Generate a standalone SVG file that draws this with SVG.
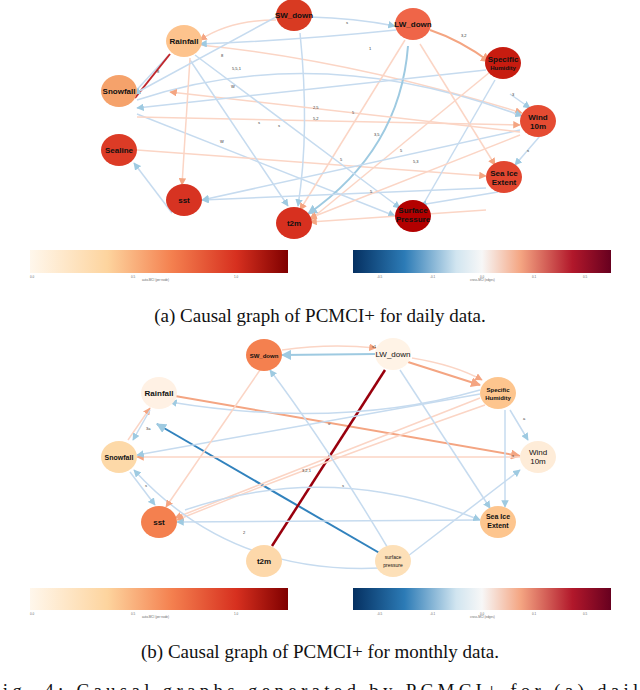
<svg xmlns="http://www.w3.org/2000/svg" width="640" height="690" viewBox="0 0 640 690">
<defs>
<linearGradient id="seq" x1="0" x2="1"><stop offset="0" stop-color="#fff7ec"/><stop offset="0.3" stop-color="#fdd49e"/><stop offset="0.55" stop-color="#f4804f"/><stop offset="0.8" stop-color="#d7301f"/><stop offset="1" stop-color="#7f0000"/></linearGradient>
<linearGradient id="div" x1="0" x2="1"><stop offset="0" stop-color="#053061"/><stop offset="0.2" stop-color="#2c7bb6"/><stop offset="0.4" stop-color="#d1e5f0"/><stop offset="0.5" stop-color="#f7f7f7"/><stop offset="0.65" stop-color="#f4a582"/><stop offset="0.85" stop-color="#b2182b"/><stop offset="1" stop-color="#67001f"/></linearGradient>
<marker id="ab" viewBox="0 0 10 10" refX="9" refY="5" markerWidth="5" markerHeight="5" orient="auto"><path d="M0,0L10,5L0,10z" fill="#9ecae1"/></marker>
<marker id="ar" viewBox="0 0 10 10" refX="9" refY="5" markerWidth="5" markerHeight="5" orient="auto"><path d="M0,0L10,5L0,10z" fill="#f4a582"/></marker>
</defs>
<style>
.n text{font-family:"Liberation Sans",Arial,sans-serif;font-size:8px;font-weight:bold;text-anchor:middle;fill:#111}
.b{fill:none;stroke:#c6dbef;stroke-width:1.5;marker-end:url(#ab)}
.bd{fill:none;stroke:#9ecae1;stroke-width:2;marker-end:url(#ab)}
.r{fill:none;stroke:#fbd5c5;stroke-width:1.5;marker-end:url(#ar)}
.rd{fill:none;stroke:#f4a582;stroke-width:2;marker-end:url(#ar)}
.lbl{font-family:"Liberation Sans",Arial,sans-serif;font-size:4px;fill:#333}
.cap{font-family:"Liberation Serif","Times New Roman",serif;font-size:19px;fill:#111;text-anchor:middle}
.tk{font-family:"Liberation Sans",Arial,sans-serif;font-size:3px;fill:#666}
</style>
<rect width="640" height="690" fill="#fff"/>
<g id="connectors">
<path class="b" d="M310,17 Q354,18 395,26"/>
<path class="rd" d="M430,30 Q460,40 490,62"/>
<path class="r" d="M200,45 Q350,60 522,113"/>
<path class="b" d="M137,100 Q320,40 522,116"/>
<path class="b" d="M137,114 L395,216"/>
<path class="r" d="M137,117 L520,125"/>
<path class="r" d="M137,150 L486,176"/>
<path class="b" d="M172,213 L134,163"/>
<path class="b" d="M300,33 Q310,130 298,206"/>
<path class="bd" d="M408,46 Q400,150 308,214"/>
<path class="r" d="M405,40 L300,210"/>
<path class="r" d="M490,72 L310,220"/>
<path class="b" d="M495,80 L420,210"/>
<path class="b" d="M520,130 L202,200"/>
<path class="r" d="M520,132 L170,92"/>
<path class="b" d="M486,188 L202,200"/>
<path class="r" d="M486,210 L310,222"/>
<path class="b" d="M195,55 L400,208"/>
<path class="b" d="M190,60 L288,206"/>
<path class="b" d="M396,30 Q300,40 200,44"/>
<path class="b" d="M486,70 L137,108"/>
<path class="r" d="M276,20 Q230,20 200,40"/>
<path class="b" d="M168,56 L132,95"/>
<path class="r" d="M190,58 L182,185"/>
<path class="b" d="M540,136 L515,165"/>
<path class="b" d="M510,94 L530,108"/>
<path class="b" d="M498,192 L420,205"/>
<path class="r" d="M520,135 L310,218"/>
<path d="M135,98 L170,54" stroke="#c0282d" stroke-width="2" fill="none"/>
<path class="b" d="M276,17 L134,94"/>
<path class="r" d="M420,44 L495,165"/>
<text class="lbl" x="346" y="24">s</text><text class="lbl" x="461" y="37">3,2</text><text class="lbl" x="369" y="50">1</text><text class="lbl" x="221" y="57">8</text><text class="lbl" x="232" y="70">5,5,1</text><text class="lbl" x="157" y="73">8</text><text class="lbl" x="231" y="88">W</text><text class="lbl" x="313" y="109">2,5</text><text class="lbl" x="313" y="120">5,2</text><text class="lbl" x="352" y="114">5</text><text class="lbl" x="258" y="124">s</text><text class="lbl" x="278" y="127">s</text><text class="lbl" x="374" y="136">3,5</text><text class="lbl" x="220" y="143">W</text><text class="lbl" x="400" y="152">5</text><text class="lbl" x="340" y="161">5</text><text class="lbl" x="413" y="163">5,3</text><text class="lbl" x="370" y="193">5</text><text class="lbl" x="512" y="96">3</text><text class="lbl" x="527" y="152">s</text>
<path class="r" d="M282,350 Q330,343 376,348"/>
<path class="bd" d="M376,354 L282,355"/>
<path class="rd" d="M408,362 L480,385"/>
<path class="r" d="M412,358 Q455,365 482,380"/>
<path class="rd" d="M175,396 L520,456"/>
<path d="M395,562 L157,424" stroke="#3182bd" stroke-width="2" fill="none" marker-end="url(#ab)"/>
<path d="M272,546 L385,370" stroke="#99000d" stroke-width="2.5" fill="none"/>
<path class="r" d="M520,457 L137,457"/>
<path class="r" d="M128,440 L150,408"/>
<path class="b" d="M150,410 L133,440"/>
<path class="b" d="M480,394 L137,455"/>
<path class="b" d="M480,390 Q340,430 170,402"/>
<path class="r" d="M480,398 L175,518"/>
<path class="r" d="M485,405 Q300,470 177,520"/>
<path class="b" d="M480,520 L177,522"/>
<path class="b" d="M185,510 Q330,460 480,520"/>
<path class="b" d="M380,568 Q230,575 134,470"/>
<path class="b" d="M130,472 L155,505"/>
<path class="r" d="M260,370 L166,507"/>
<path class="b" d="M395,560 Q330,450 270,370"/>
<path class="b" d="M400,370 L490,508"/>
<path class="b" d="M408,556 L520,470"/>
<path class="b" d="M505,410 L505,507"/>
<path class="b" d="M510,410 L528,440"/>
<text class="lbl" x="146" y="430">3a</text><text class="lbl" x="328" y="425">u</text><text class="lbl" x="302" y="472">3,2,1</text><text class="lbl" x="342" y="487">s</text><text class="lbl" x="145" y="487">s</text><text class="lbl" x="243" y="534">2</text><text class="lbl" x="523" y="420">a</text><text class="lbl" x="512" y="457">s</text><text class="lbl" x="372" y="348">s1</text>
</g>
<g id="node-sw-a" class="n"><ellipse cx="294" cy="15" rx="18" ry="16" fill="#d83a22"/><text x="294" y="18">SW_down</text></g>
<g id="node-lw-a" class="n"><ellipse cx="413" cy="24" rx="18" ry="16" fill="#ef6548"/><text x="413" y="27">LW_down</text></g>
<g id="node-rain-a" class="n"><ellipse cx="184" cy="41" rx="18" ry="16" fill="#fdc38d"/><text x="184" y="44">Rainfall</text></g>
<g id="node-sh-a" class="n"><ellipse cx="503" cy="63" rx="18" ry="16" fill="#c71c10"/><text x="503" y="62">Specific</text><text x="503" y="70" style="font-size:6px">Humidity</text></g>
<g id="node-snow-a" class="n"><ellipse cx="119" cy="91" rx="18" ry="16" fill="#f5a26b"/><text x="119" y="94">Snowfall</text></g>
<g id="node-wind-a" class="n"><ellipse cx="538" cy="121" rx="18" ry="16" fill="#e54b32"/><text x="538" y="120">Wind</text><text x="538" y="129">10m</text></g>
<g id="node-sea-a" class="n"><ellipse cx="119" cy="150" rx="18" ry="16" fill="#dc3b26"/><text x="119" y="153">Sealine</text></g>
<g id="node-ice-a" class="n"><ellipse cx="504" cy="177" rx="18" ry="16" fill="#e2462f"/><text x="504" y="176">Sea Ice</text><text x="504" y="185">Extent</text></g>
<g id="node-sst-a" class="n"><ellipse cx="184" cy="200" rx="18" ry="16" fill="#d73322"/><text x="184" y="203">sst</text></g>
<g id="node-sp-a" class="n"><ellipse cx="413" cy="216" rx="18" ry="16" fill="#b30000"/><text x="413" y="213">Surface</text><text x="413" y="222">Pressure</text></g>
<g id="node-t2m-a" class="n"><ellipse cx="294" cy="223" rx="18" ry="16" fill="#d7301f"/><text x="294" y="226">t2m</text></g>
<g id="cbars-a"><rect x="30" y="250" width="258" height="23" fill="url(#seq)"/><rect x="353" y="250" width="258" height="23" fill="url(#div)"/>
<text class="tk" x="30" y="278">0.0</text><text class="tk" x="131" y="278">0.5</text><text class="tk" x="142" y="281">auto-MCI (per node)</text><text class="tk" x="234" y="278">1.0</text><text class="tk" x="377" y="278">-0.5</text><text class="tk" x="430" y="278">-0.1</text><text class="tk" x="480" y="278">0.0</text><text class="tk" x="470" y="281">cross-MCI (edges)</text><text class="tk" x="532" y="278">0.1</text><text class="tk" x="583" y="278">0.5</text></g>
<text class="cap" x="320" y="322">(a) Causal graph of PCMCI+ for daily data.</text>
<g id="node-sw-b" class="n"><ellipse cx="264" cy="355" rx="18" ry="16" fill="#f4804f"/><text x="264" y="358" style="font-size:6px">SW_down</text></g>
<g id="node-lw-b" class="n"><ellipse cx="393" cy="354" rx="18" ry="16" fill="#fff3e6"/><text x="393" y="357" style="font-weight:normal">LW_down</text></g>
<g id="node-rain-b" class="n"><ellipse cx="159" cy="393" rx="18" ry="16" fill="#fff1e4"/><text x="159" y="396">Rainfall</text></g>
<g id="node-sh-b" class="n"><ellipse cx="498" cy="393" rx="18" ry="16" fill="#fdc58e"/><text x="498" y="392" style="font-size:6px">Specific</text><text x="498" y="400" style="font-size:6px">Humidity</text></g>
<g id="node-snow-b" class="n"><ellipse cx="119" cy="457" rx="18" ry="16" fill="#fdd9a8"/><text x="119" y="460" style="font-size:7px">Snowfall</text></g>
<g id="node-wind-b" class="n"><ellipse cx="538" cy="457" rx="18" ry="16" fill="#feecd8"/><text x="538" y="455" style="font-weight:normal">Wind</text><text x="538" y="464" style="font-weight:normal">10m</text></g>
<g id="node-sst-b" class="n"><ellipse cx="159" cy="522" rx="18" ry="16" fill="#f4804f"/><text x="159" y="525">sst</text></g>
<g id="node-ice-b" class="n"><ellipse cx="498" cy="522" rx="18" ry="16" fill="#fdc58e"/><text x="498" y="519" style="font-size:7px">Sea Ice</text><text x="498" y="528" style="font-size:7px">Extent</text></g>
<g id="node-t2m-b" class="n"><ellipse cx="264" cy="561" rx="18" ry="16" fill="#fdd8aa"/><text x="264" y="564">t2m</text></g>
<g id="node-sp-b" class="n"><ellipse cx="393" cy="561" rx="18" ry="16" fill="#fde0b8"/><text x="393" y="559" style="font-size:5px;font-weight:normal">surface</text><text x="393" y="567" style="font-size:5px;font-weight:normal">pressure</text></g>
<g id="cbars-b"><rect x="30" y="588" width="258" height="22" fill="url(#seq)"/><rect x="353" y="588" width="258" height="22" fill="url(#div)"/>
<text class="tk" x="30" y="615">0.0</text><text class="tk" x="131" y="615">0.5</text><text class="tk" x="142" y="618">auto-MCI (per node)</text><text class="tk" x="234" y="615">1.0</text><text class="tk" x="377" y="615">-0.5</text><text class="tk" x="430" y="615">-0.1</text><text class="tk" x="480" y="615">0.0</text><text class="tk" x="470" y="618">cross-MCI (edges)</text><text class="tk" x="532" y="615">0.1</text><text class="tk" x="583" y="615">0.5</text></g>
<text class="cap" x="320" y="658">(b) Causal graph of PCMCI+ for monthly data.</text>
<text class="cap" x="-12" y="697" style="text-anchor:start" textLength="664" lengthAdjust="spacing">Fig. 4: Causal graphs generated by PCMCI+ for (a) daily</text>
</svg>
